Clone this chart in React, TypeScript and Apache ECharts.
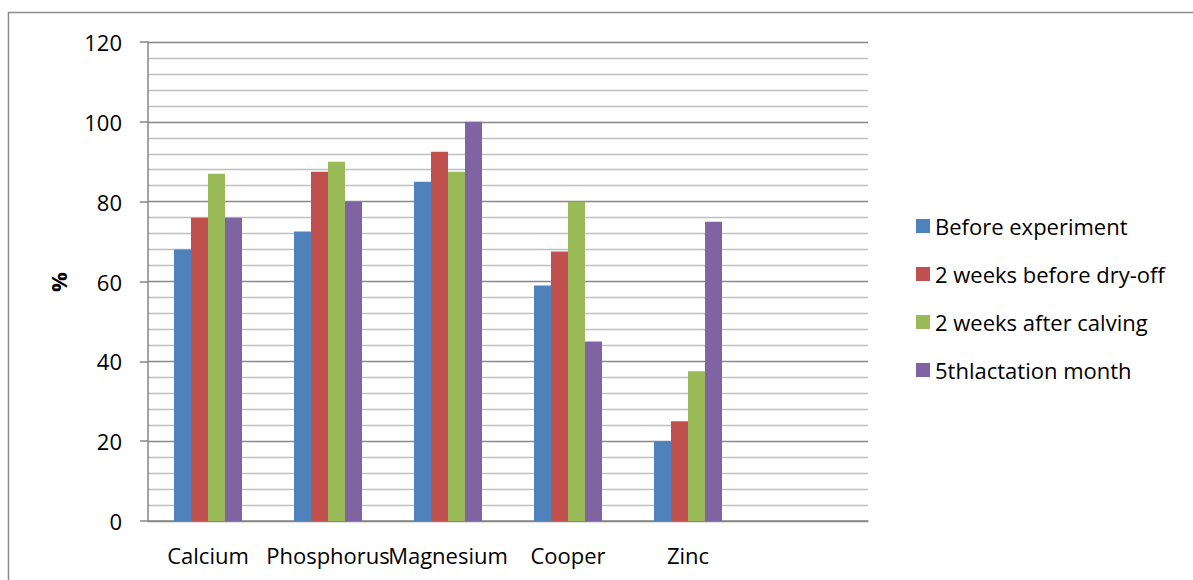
import React, { useEffect, useRef } from "react";
import * as echarts from "echarts";

const categories = ["Calcium", "Phosphorus", "Magnesium", "Cooper", "Zinc", ""];
const seriesNames = [
  "Before experiment",
  "2 weeks before dry-off",
  "2 weeks after calving",
  "5thlactation month",
];
const beforeExperiment = [68, 72.5, 85, 59, 20, null];
const weeksBeforeDryOff = [76, 87.5, 92.5, 67.5, 25, null];
const weeksAfterCalving = [87, 90, 87.5, 80, 37.5, null];
const lactationMonth5 = [76, 80, 100, 45, 75, null];
const colors = ["#4F81BD", "#C0504D", "#9BBB59", "#8064A2"];

const FONT = "'Open Sans', sans-serif";
const FS = 22;

export default function App() {
  const ref = useRef<HTMLDivElement>(null);
  useEffect(() => {
    if (!ref.current) return;
    const chart = echarts.init(ref.current, null, { renderer: "svg" });
    const data = [beforeExperiment, weeksBeforeDryOff, weeksAfterCalving, lactationMonth5];
    chart.setOption({
      animation: false,
      backgroundColor: "#ffffff",
      color: colors,
      textStyle: { fontFamily: FONT },
      graphic: [
        {
          type: "rect",
          shape: { x: 8.5, y: 12.5, width: 1300, height: 700 },
          style: { fill: "none", stroke: "#8c8c8c", lineWidth: 1.5 },
          silent: true,
        },
        {
          type: "text",
          x: 58,
          y: 282,
          rotation: Math.PI / 2,
          style: {
            text: "%",
            fontFamily: FONT,
            fontSize: FS,
            fontWeight: "bold",
            fill: "#000",
            align: "center",
            verticalAlign: "middle",
          },
        },
      ],
      grid: { left: 148, right: 325, top: 42, bottom: 59, containLabel: false },
      legend: {
        orient: "vertical",
        left: 911,
        top: 210,
        itemWidth: 14,
        itemHeight: 14,
        itemGap: 26,
        icon: "rect",
        textStyle: { fontFamily: FONT, fontSize: FS, color: "#000", padding: [0, 0, 0, 0] },
        data: seriesNames,
      },
      xAxis: {
        type: "category",
        data: categories,
        axisLine: { lineStyle: { color: "#868686", width: 1.5 } },
        axisTick: { show: false },
        axisLabel: { interval: 0, margin: 23, fontSize: FS, color: "#000", fontFamily: FONT },
        splitLine: { show: false },
      },
      yAxis: {
        type: "value",
        min: 0,
        max: 120,
        interval: 20,
        axisLine: { show: true, lineStyle: { color: "#868686", width: 1.5 } },
        axisTick: { show: true, length: 8, lineStyle: { color: "#868686", width: 1.5 } },
        axisLabel: { margin: 26, fontSize: FS, color: "#000", fontFamily: FONT },
        splitLine: { show: true, lineStyle: { color: "#868686", width: 1.3 } },
        minorTick: { show: false, splitNumber: 5 },
        minorSplitLine: { show: true, lineStyle: { color: "#bfbfbf", width: 1.3 } },
      },
      series: seriesNames.map((name, i) => ({
        name,
        type: "bar",
        data: data[i],
        barWidth: 17,
        barGap: "0%",
        itemStyle: { color: colors[i] },
      })),
    });
    return () => chart.dispose();
  }, []);
  return (
    <div
      ref={ref}
      style={{ position: "absolute", left: 0, top: 0, width: 1193, height: 580 }}
    />
  );
}
